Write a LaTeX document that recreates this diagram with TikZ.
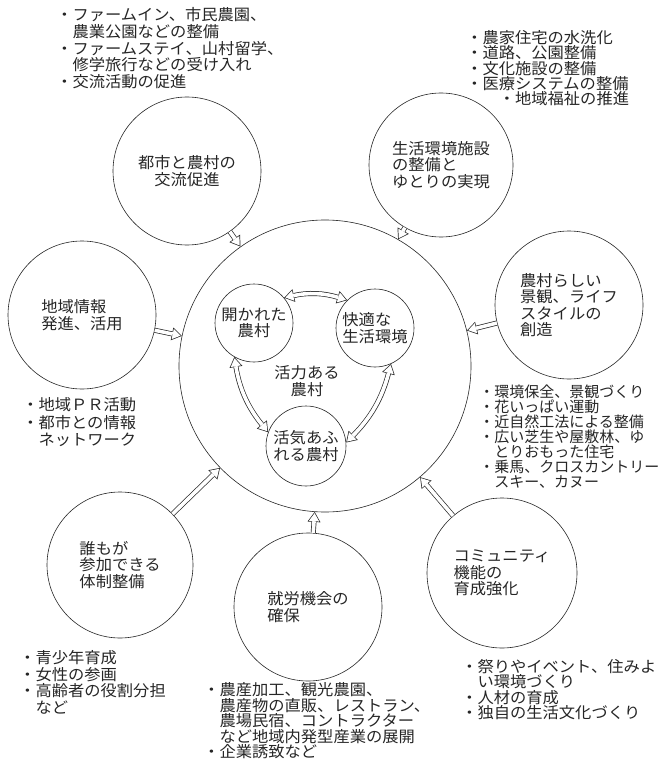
\documentclass[tikz,border=0pt]{standalone}
\usepackage{fontspec}
\newfontfamily\jp[FakeStretch=1.05]{Noto Sans CJK JP}
\newfontfamily\jpn{Noto Sans CJK JP}
\usetikzlibrary{arrows.meta}
\newcommand\jpf{\fontsize{15.5}{16.5}\selectfont\jp}
\begin{document}
\begin{tikzpicture}[x=1pt,y=1pt,line width=0.6pt,
  circ/.style={draw=black!85, circle, inner sep=0pt, align=left, font=\jpf, text=black!85},
  txt/.style={anchor=north west, inner sep=0pt, align=left, text=black!85, font={\fontsize{15.5}{#1}\selectfont\jp}},
  txt/.default=16.5,
  tipB/.tip={Triangle[length=10pt,width=13pt,line width=0pt]},
  tipW/.tip={Triangle[length=8pt,width=10.4pt,line width=0pt]},
  arrB/.style={draw=black!85, line width=5pt, -tipB},
  arrW/.style={draw=white, line width=3.6pt, shorten >=1.3pt, -tipW},
  darrB/.style={draw=black!85, line width=5pt, tipB-tipB},
  darrW/.style={draw=white, line width=3.6pt, shorten >=1.3pt, shorten <=1.3pt, tipW-tipW}]
\useasboundingbox (0,0) rectangle (660,-767);
\clip (0,0) rectangle (660,-767);
\fill[white] (0,0) rectangle (660,-767);

% main circle and inner circles
\node[circ, minimum size=292] (main) at (325,-366) {};
\node[font=\jpf, align=center, text=black!85, inner sep=0pt] (core) at (307,-381) {活力ある\\農村};
\node[circ, minimum size=78, align=center] (open) at (254,-323) {開かれた\\農村};
\node[circ, minimum size=78] (comf) at (375,-328) {快適な\\生活環境};
\node[circ, minimum size=80] (vital) at (306,-446) {活気あふ\\れる農村};

% outer circles
\node[circ, minimum size=148, align=center] (city) at (187,-171) {都市と農村の\\交流促進};
\node[circ, minimum size=144] (life) at (441,-165) {生活環境施設\\の整備と\\ゆとりの実現};
\node[circ, minimum size=148] (scene) at (569,-305) {農村らしい\\景観、ライフ\\スタイルの\\創造};
\node[circ, minimum size=148] (info) at (82,-315) {地域情報\\発進、活用};
\node[circ, minimum size=146] (all) at (120,-565) {誰もが\\参加できる\\体制整備};
\node[circ, minimum size=148] (work) at (308,-607) {就労機会の\\確保};
\node[circ, minimum size=150] (comm) at (502,-573) {コミュニティ\\機能の\\育成強化};

% hollow arrows outer -> main
\foreach \s in {city,life,scene,info,all,work,comm}{
  \draw[arrB] (\s) -- (main);
  \draw[arrW] (\s) -- (main);
}

% inner double arrows
\draw[darrB] (open.40) to[bend left=15] (comf.135);
\draw[darrW] (open.40) to[bend left=15] (comf.135);
\draw[darrB] (open.-120) to[bend right=15] (vital.160);
\draw[darrW] (open.-120) to[bend right=15] (vital.160);
\draw[darrB] (comf.-66) to[bend left=15] (vital.5);
\draw[darrW] (comf.-66) to[bend left=15] (vital.5);

% text blocks
\node[txt=16.7] (tTL) at (56,-7.3) {・ファームイン、市民農園、\\　農業公園などの整備\\・ファームステイ、山村留学、\\　修学旅行などの受け入れ\\・交流活動の促進};
\node[txt=15.3] (tTR) at (466,-30.3) {・農家住宅の水洗化\\・道路、公園整備\\・文化施設の整備\\・医療システムの整備\\　　・地域福祉の推進};
\node[txt=17.5] (tLM) at (22,-397.3) {・地域ＰＲ活動\\・都市との情報\\　ネットワーク};
\node[anchor=north west, inner sep=0pt, align=left, text=black!85, font={\fontsize{15}{15}\selectfont\jpn}] (tRM) at (479,-384.8) {・環境保全、景観づくり\\・花いっぱい運動\\・近自然工法による整備\\・広い芝生や屋敷林、ゆ\\　とりおもった住宅\\・乗馬、クロスカントリー\\　スキー、カヌー};
\node[txt=16.5] (tBL) at (19,-650.3) {・青少年育成\\・女性の参画\\・高齢者の役割分担\\　など};
\node[txt=15.5] (tBM) at (203,-682.3) {・農産加工、観光農園、\\　農産物の直販、レストラン、\\　農場民宿、コントラクター\\　など地域内発型産業の展開\\・企業誘致など};
\node[txt=15.3] (tBR) at (461,-659.3) {・祭りやイベント、住みよ\\　い環境づくり\\・人材の育成\\・独自の生活文化づくり};
\end{tikzpicture}
\end{document}
